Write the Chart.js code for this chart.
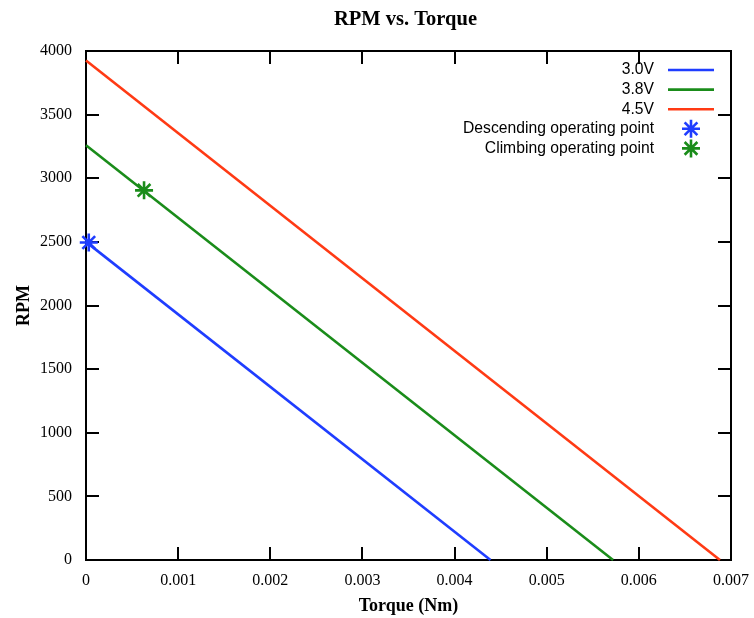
<!DOCTYPE html>
<html>
<head>
<meta charset="utf-8">
<script src="https://cdn.jsdelivr.net/npm/chart.js@4/dist/chart.umd.min.js"></script>
<style>
  body { margin: 0; background: #fff; }
  #wrap { width: 754px; height: 618px; }
</style>
</head>
<body>
<div id="wrap"><canvas id="rpm-chart"></canvas></div>
<script>
// motor curves: one straight line per supply voltage
const seriesLabels = ['3.0V', '3.8V', '4.5V'];
const seriesColors = ['#1f3dff', '#1a8c1a', '#ff3a14'];
const torqueStart = [0, 0, 0];
const rpmStart = [2500, 3260, 3925];
const torqueEnd = [0.00439, 0.00572, 0.00688];
const rpmEnd = [0, 0, 0];

// operating points
const pointLabels = ['Descending operating point', 'Climbing operating point'];
const pointColors = ['#1f3dff', '#1a8c1a'];
const pointTorque = [0.00003, 0.00063];
const pointRpm = [2495, 2905];

const xTicks = [0, 0.001, 0.002, 0.003, 0.004, 0.005, 0.006, 0.007];
const yTicks = [0, 500, 1000, 1500, 2000, 2500, 3000, 3500, 4000];

const serif = "'Liberation Serif', 'DejaVu Serif', serif";
const sans = "'Liberation Sans', Arial, sans-serif";

const datasets = seriesLabels.map((label, i) => ({
    label,
    data: [{ x: torqueStart[i], y: rpmStart[i] }, { x: torqueEnd[i], y: rpmEnd[i] }],
    showLine: true,
    borderColor: seriesColors[i],
    borderWidth: 2.6,
    pointRadius: 0,
    clip: false
}));

pointLabels.forEach((label, i) => {
    datasets.push({
        label,
        data: [{ x: pointTorque[i], y: pointRpm[i] }],
        showLine: false,
        pointStyle: 'star',
        pointRadius: 9,
        borderColor: pointColors[i],
        backgroundColor: pointColors[i],
        pointBorderWidth: 2.6,
        clip: false
    });
});

// gnuplot style box with inward ticks on every side
const framePlugin = {
    id: 'frame',
    beforeDatasetsDraw(chart) {
        const { ctx, chartArea: a, scales } = chart;
        const len = 13;
        ctx.save();
        ctx.strokeStyle = '#000';
        ctx.lineWidth = 2;
        ctx.beginPath();
        xTicks.forEach(v => {
            const px = Math.round(scales.x.getPixelForValue(v));
            ctx.moveTo(px, a.bottom); ctx.lineTo(px, a.bottom - len);
            ctx.moveTo(px, a.top); ctx.lineTo(px, a.top + len);
        });
        yTicks.forEach(v => {
            const py = Math.round(scales.y.getPixelForValue(v));
            ctx.moveTo(a.left, py); ctx.lineTo(a.left + len, py);
            ctx.moveTo(a.right, py); ctx.lineTo(a.right - len, py);
        });
        ctx.stroke();
        ctx.strokeRect(a.left, a.top, a.right - a.left, a.bottom - a.top);
        ctx.restore();
    },
    afterDraw(chart) {
        const { ctx, chartArea: a } = chart;
        ctx.save();
        // title
        ctx.fillStyle = '#000';
        ctx.font = `bold 20.5px ${serif}`;
        ctx.textAlign = 'center';
        ctx.textBaseline = 'middle';
        ctx.fillText('RPM vs. Torque', (a.left + a.right) / 2 - 3, 20);

        // legend, sample on the right of the text
        const textRight = 654, lineL = 668, lineR = 714, markX = 691;
        ctx.font = `15.7px ${sans}`;
        ctx.textAlign = 'right';
        chart.data.datasets.forEach((ds, i) => {
            const y = 70 + i * 19.6;
            ctx.fillStyle = '#000';
            ctx.fillText(ds.label, textRight, y);
            ctx.strokeStyle = ds.borderColor;
            ctx.fillStyle = ds.borderColor;
            ctx.lineWidth = 2.6;
            if (ds.showLine) {
                ctx.beginPath();
                ctx.moveTo(lineL, y); ctx.lineTo(lineR, y);
                ctx.stroke();
            } else {
                Chart.helpers.drawPoint(ctx, { pointStyle: 'star', radius: 9, borderWidth: 2.6 }, markX, y);
            }
        });
        ctx.restore();
    }
};

new Chart(document.getElementById('rpm-chart'), {
    type: 'scatter',
    data: { datasets },
    options: {
        responsive: true,
        maintainAspectRatio: false,
        animation: false,
        layout: { padding: { top: 51, right: 23, left: 0, bottom: 0 } },
        plugins: {
            legend: { display: false },
            tooltip: { enabled: false }
        },
        scales: {
            x: {
                type: 'linear',
                min: 0,
                max: 0.007,
                grid: { display: false, drawTicks: false },
                border: { display: false },
                afterBuildTicks: s => { s.ticks = xTicks.map(v => ({ value: v })); },
                afterFit: s => { s.height = 58; s.paddingLeft = 0; s.paddingRight = 0; },
                ticks: {
                    color: '#000',
                    padding: 11,
                    maxRotation: 0,
                    font: { family: serif, size: 16 },
                    callback: v => (v === 0 ? '0' : v.toFixed(3))
                },
                title: {
                    display: true,
                    text: 'Torque (Nm)',
                    color: '#000',
                    font: { family: serif, size: 18, weight: 'bold' },
                    padding: { top: 0, bottom: 1 }
                }
            },
            y: {
                min: 0,
                max: 4000,
                grid: { display: false, drawTicks: false },
                border: { display: false },
                afterBuildTicks: s => { s.ticks = yTicks.map(v => ({ value: v })); },
                afterFit: s => { s.width = 86; s.paddingTop = 0; s.paddingBottom = 0; },
                ticks: {
                    color: '#000',
                    padding: 14,
                    font: { family: serif, size: 16 },
                    callback: v => String(v)
                },
                title: {
                    display: true,
                    text: 'RPM',
                    color: '#000',
                    font: { family: serif, size: 18, weight: 'bold' },
                    padding: { top: 14, bottom: 0 }
                }
            }
        }
    },
    plugins: [framePlugin]
});
</script>
</body>
</html>
